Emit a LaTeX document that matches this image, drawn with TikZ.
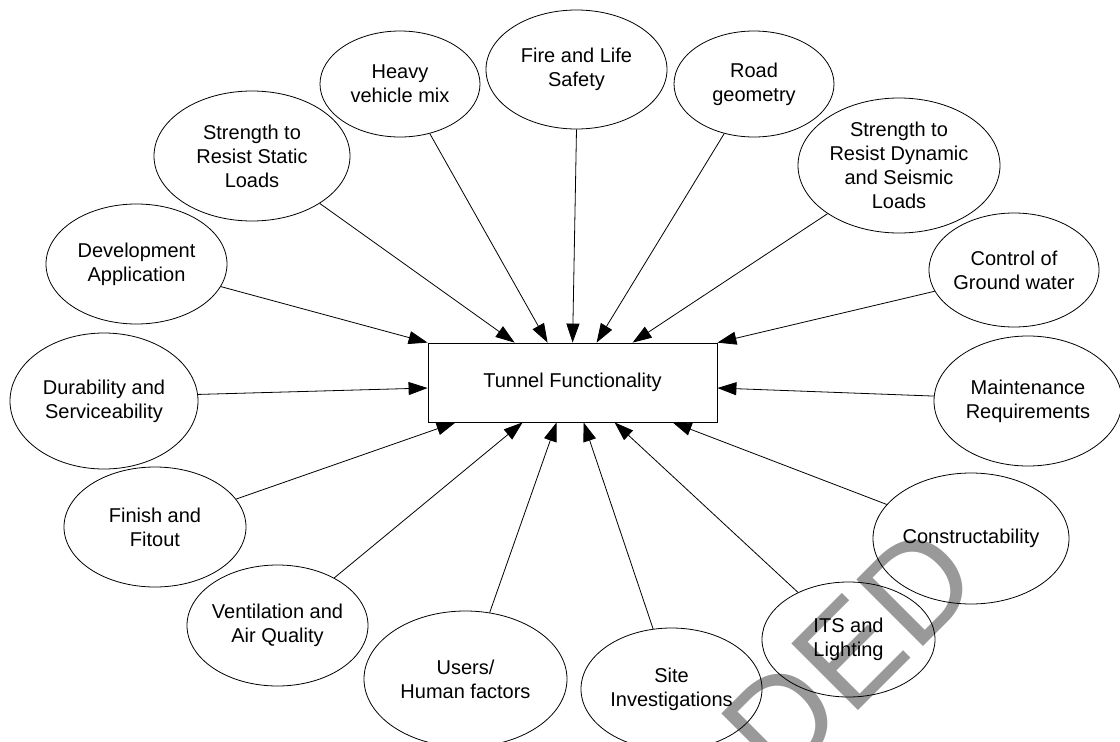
\documentclass[tikz,border=0pt]{standalone}
\usepackage{fontspec}
\setmainfont{Liberation Sans}
\usetikzlibrary{shapes.geometric,arrows.meta,calc}
\begin{document}
\begin{tikzpicture}[x=1pt,y=-1pt,
  bub/.style={ellipse,draw,line width=0.8pt,inner xsep=-8pt,inner ysep=0pt,align=center,
    font=\fontsize{20}{24}\selectfont},
  box/.style={rectangle,draw,line width=0.8pt,inner sep=0pt,font=\fontsize{20}{24}\selectfont},
  arr/.style={line width=0.8pt,-{Triangle[length=19pt,width=13pt]}},
  wmark/.style={inner sep=0pt,outer sep=0pt,text=black!40,font=\fontsize{137}{137}\selectfont}]
\useasboundingbox (0,0) rectangle (1120,742);
\clip (0,0) rectangle (1120,742);
\fill[white] (0,0) rectangle (1120,742);
% watermark
\node[wmark,rotate=45,anchor=base west] (wm) at (780.6,788.6) {DED};
% central box
\node[box,minimum width=289pt,minimum height=79pt] (tf) at (572.5,382.5) {Tunnel Functionality};
% bubbles
\node[bub,minimum width=181pt,minimum height=120pt] (dev) at (136.5,264) {Development\\Application};
\node[bub,minimum width=196pt,minimum height=130pt] (static) at (252,156) {Strength to\\Resist Static\\Loads};
\node[bub,minimum width=160pt,minimum height=106pt] (heavy) at (400,84) {Heavy\\vehicle mix};
\node[bub,minimum width=181pt,minimum height=119pt] (fire) at (576.5,69.5) {Fire and Life\\Safety};
\node[bub,minimum width=160pt,minimum height=106pt] (road) at (754,84) {Road\\geometry};
\node[bub,minimum width=202pt,minimum height=135pt] (dyn) at (899,165.5) {Strength to\\Resist Dynamic\\and Seismic\\Loads};
\node[bub,minimum width=170pt,minimum height=114pt] (gw) at (1014,270) {Control of\\Ground water};
\node[bub,minimum width=188pt,minimum height=136pt] (dur) at (104,401) {Durability and\\Serviceability};
\node[bub,minimum width=188pt,minimum height=130pt] (maint) at (1028,401) {Maintenance\\Requirements};
\node[bub,minimum width=182pt,minimum height=120pt] (fin) at (155,527) {Finish and\\Fitout};
\node[bub,minimum width=181pt,minimum height=121pt] (vent) at (277.5,625.5) {Ventilation and\\Air Quality};
\node[bub,minimum width=203pt,minimum height=136pt] (users) at (465.5,679) {Users/\\Human factors};
\node[bub,minimum width=181pt,minimum height=122pt] (site) at (671.5,689) {Site\\Investigations};
\node[bub,minimum width=173pt,minimum height=115pt] (its) at (848.5,639.5) {ITS and\\Lighting};
\node[bub,minimum width=196pt,minimum height=131pt] (con) at (971,538.5) {Constructability};
% connectors
\draw[arr] (dev.-15.2) -- (tf.north west);
\draw[arr] (static.-35.2) -- ($(tf.north west)+(87,0)$);
\draw[arr] (heavy.-59.7) -- ($(tf.north west)+(120,0)$);
\draw[arr] (fire.-90) -- ($(tf.north west)+(145,0)$);
\draw[arr] (road.-121.7) -- ($(tf.north west)+(169,0)$);
\draw[arr] (dyn.-146.9) -- ($(tf.north west)+(205,0)$);
\draw[arr] (gw.-165.1) -- (tf.north east);
\draw[arr] (dur.4.3) -- ($(tf.west)+(0,5.5)$);
\draw[arr] (maint.177.5) -- ($(tf.east)+(0,5.5)$);
\draw[arr] (fin.19.7) -- ($(tf.south west)+(28,0)$);
\draw[arr] (vent.40.2) -- ($(tf.south west)+(95,0)$);
\draw[arr] (users.70.4) -- ($(tf.south west)+(129,0)$);
\draw[arr] (site.107.7) -- ($(tf.south west)+(156,0)$);
\draw[arr] (its.137.6) -- ($(tf.south west)+(187,0)$);
\draw[arr] (con.158.9) -- ($(tf.south west)+(245,0)$);
\end{tikzpicture}
\end{document}
